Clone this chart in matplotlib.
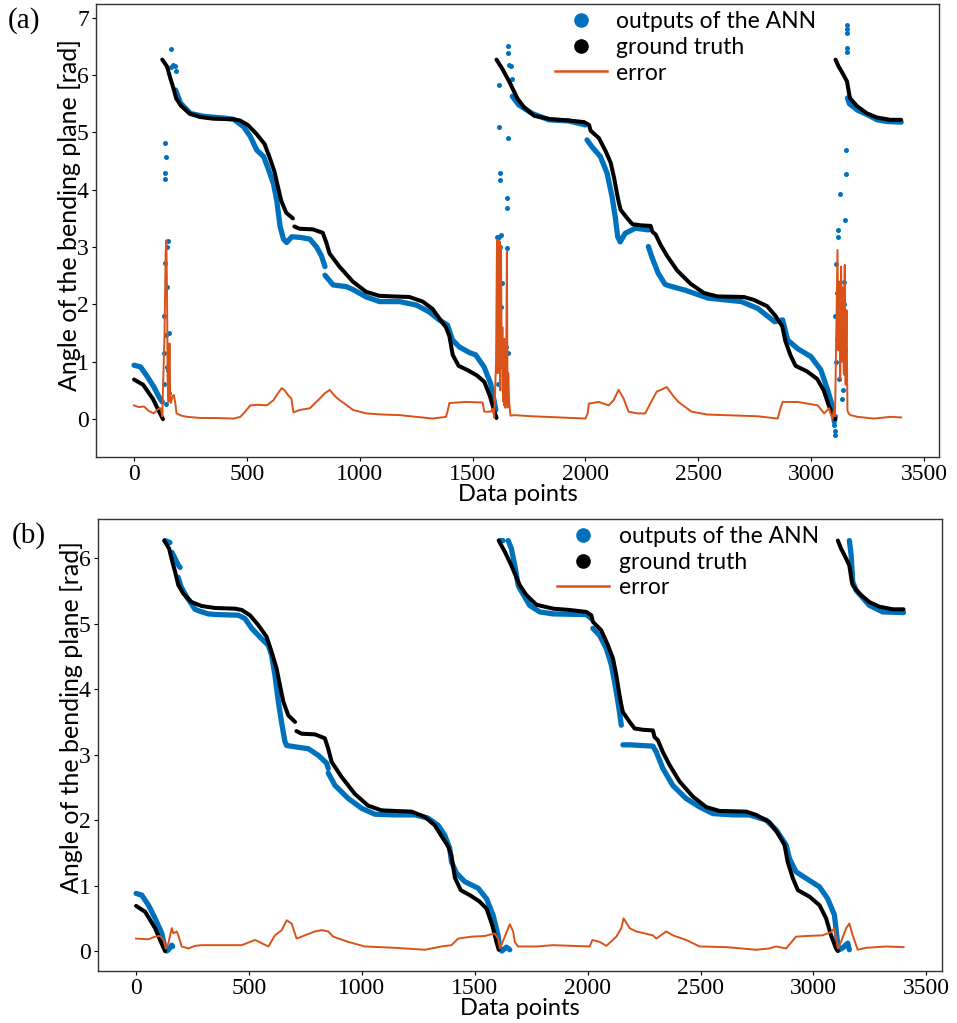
import numpy as np
import matplotlib
matplotlib.use("Agg")
import matplotlib.pyplot as plt
from matplotlib.lines import Line2D

nan = np.nan

# ground truth (same in both panels), nan = gap in the curve
gt_x = [0, 40, 84, 110, 128, nan,
        125, 146, 161, 173, 187, 209, 246, 291, 350, 438, 468, 504, 541, 578, 600, 622, 637, 652, 674, 704, nan,
        710, 733, 792, 836, 851, 866, 910, 969, 1028, 1087, 1146, 1220, 1279, 1323, 1352, 1382, 1397, 1412, 1438,
        1480, 1520, 1552, 1577, 1596, 1606, nan,
        1606, 1633, 1662, 1699, 1728, 1773, 1847, 1920, 1994, 2016, 2023, 2060, 2090, 2112, 2127, 2141, 2149, 2156,
        2186, 2208, 2245, 2289, 2296, 2311, 2333, 2363, 2407, 2466, 2525, 2584, 2702, 2746, 2805, 2842, 2872, 2886,
        2909, 2931, 2983, 3027, 3056, 3078, 3100, 3108, nan,
        3108, 3122, 3137, 3159, 3170, 3174, 3203, 3248, 3292, 3351, 3399]
gt_y = [0.69, 0.60, 0.35, 0.14, 0.0, nan,
        6.27, 6.15, 5.94, 5.79, 5.59, 5.46, 5.33, 5.27, 5.24, 5.23, 5.21, 5.13, 4.98, 4.80, 4.57, 4.32, 4.06, 3.81, 3.60, 3.50, nan,
        3.36, 3.32, 3.31, 3.25, 3.09, 2.89, 2.66, 2.40, 2.22, 2.15, 2.14, 2.13, 2.05, 1.92, 1.76, 1.60, 1.45, 1.12, 0.93,
        0.85, 0.76, 0.65, 0.40, 0.14, 0.02, nan,
        6.27, 6.10, 5.89, 5.59, 5.44, 5.29, 5.23, 5.21, 5.18, 5.13, 5.03, 4.90, 4.67, 4.47, 4.21, 3.91, 3.76, 3.65,
        3.50, 3.40, 3.38, 3.37, 3.27, 3.22, 3.04, 2.84, 2.59, 2.36, 2.20, 2.14, 2.13, 2.08, 1.97, 1.80, 1.62, 1.36,
        1.11, 0.93, 0.83, 0.70, 0.50, 0.24, 0.04, 0.0, nan,
        6.27, 6.15, 6.05, 5.89, 5.64, 5.59, 5.46, 5.33, 5.26, 5.22, 5.22]

# (a) outputs of the ANN: dense band and scattered points
out_a_x = [0, 29, 59, 88, 110, 125, nan,
           184, 206, 250, 309, 400, 441, 485, 515, 544, 574, 596, 618, 632, 647, 662, 676, 699, 735, 779, 809, 830, 846, nan,
           846, 882, 941, 970, 1029, 1088, 1176, 1250, 1308, 1352, 1389, 1411, 1441, 1486, 1514, 1551, 1580, 1595, 1603, nan,
           1676, 1705, 1764, 1838, 1927, 2000, nan,
           2007, 2029, 2066, 2096, 2118, 2132, 2143, 2154, 2176, 2221, 2279, nan,
           2279, 2294, 2323, 2353, 2367, 2412, 2441, 2544, 2691, 2764, 2838, 2874, 2896, 2940, 2999, 3043, 3073, 3095, 3103, nan,
           3161, 3170, 3205, 3249, 3293, 3340, 3399]
out_a_y = [0.94, 0.91, 0.74, 0.56, 0.39, 0.30, nan,
           5.74, 5.51, 5.33, 5.28, 5.25, 5.23, 5.10, 4.93, 4.69, 4.58, 4.35, 4.10, 3.82, 3.36, 3.14, 3.08, 3.18, 3.17, 3.14, 3.00, 2.85, 2.66, nan,
           2.51, 2.34, 2.31, 2.26, 2.13, 2.05, 2.05, 1.99, 1.87, 1.73, 1.64, 1.38, 1.26, 1.16, 1.12, 0.91, 0.62, 0.33, 0.16, nan,
           5.63, 5.48, 5.33, 5.22, 5.20, 5.13, nan,
           4.87, 4.75, 4.58, 4.29, 3.88, 3.53, 3.18, 3.09, 3.24, 3.33, 3.30, nan,
           3.01, 2.83, 2.54, 2.35, 2.33, 2.28, 2.25, 2.11, 2.05, 1.93, 1.70, 1.73, 1.38, 1.23, 1.09, 0.86, 0.51, 0.22, -0.05, nan,
           5.60, 5.50, 5.39, 5.31, 5.22, 5.19, 5.18]
dots_a_x = [137, 141, 135, 138, 147, 135, 147, 132, 154, 132, 147, 132, 154, 140, 162, 165, 172, 180, 188, 150, 140, 152,
            1617, 1617, 1621, 1621, 1617, 1620, 1654, 1654, 1657, 1654, 1658, 1658, 1661, 1668, 1676, 1607, 1613, 1640,
            1644, 1632, 1650, 1655, 1625, 1610, 1625,
            3117, 3117, 3127, 3154, 3154, 3151, 3161, 3161, 3161, 3158, 3158, 3110, 3113, 3108, 3115, 3112, 3125, 3143,
            3150, 3150, 3147, 3146, 3152, 3139, 3103, 3105, 3106, 3104]
dots_a_y = [4.81, 4.58, 4.30, 4.19, 3.01, 2.72, 2.31, 1.79, 1.50, 1.15, 0.91, 0.62, 0.45, 0.27, 6.45, 6.14, 6.18, 6.16, 6.08, 3.10, 1.47, 0.85,
            5.83, 5.10, 4.29, 4.17, 3.18, 3.01, 3.85, 3.69, 4.90, 2.98, 6.50, 6.38, 6.18, 6.15, 5.93, 0.91, 0.62, 0.45,
            0.27, 2.37, 1.26, 1.15, 1.96, 3.18, 3.21,
            3.30, 3.18, 3.93, 4.69, 4.28, 3.47, 6.88, 6.80, 6.73, 6.47, 6.41, 2.70, 2.20, 1.80, 1.40, 1.00, 0.70, 0.50,
            0.80, 1.50, 2.00, 2.40, 1.20, 0.35, -0.10, -0.20, -0.28, 0.05]

# (a) error
err_a_x = [0, 20, 44, 66, 88, 105, 118,
           125, 135, 140, 143, 146, 149, 153, 157, 160, 163, 170, 176, 182, 188,
           210, 235, 294, 360, 441, 471, 490, 515, 550, 588, 618, 632, 654, 668, 682, 697, 706, 735, 779, 823, 845, 867,
           890, 911, 940, 970, 1029, 1100, 1176, 1250, 1323, 1382, 1390, 1397, 1470, 1544, 1552, 1580, 1590,
           1596, 1604, 1608, 1611, 1614, 1617, 1620, 1623, 1626, 1629, 1632, 1636, 1640, 1644, 1648, 1652, 1655, 1658,
           1662, 1668, 1684,
           1764, 1882, 2000, 2010, 2015, 2059, 2103, 2125, 2147, 2169, 2191, 2230, 2265, 2287, 2316, 2340, 2360, 2390,
           2412, 2470, 2540, 2617, 2700, 2764, 2852, 2865, 2874, 2940, 3029, 3058, 3080, 3090,
           3095, 3100, 3106, 3112, 3117, 3121, 3125, 3129, 3133, 3137, 3141, 3145, 3149, 3153, 3157, 3161, 3166, 3175,
           3205, 3279, 3352, 3399]
err_a_y = [0.24, 0.21, 0.22, 0.14, 0.10, 0.17, 0.19,
           0.05, 1.50, 2.90, 3.12, 2.20, 0.60, 0.30, 1.32, 0.40, 0.28, 0.40, 0.42, 0.30, 0.10,
           0.06, 0.04, 0.02, 0.02, 0.01, 0.04, 0.12, 0.24, 0.25, 0.24, 0.33, 0.42, 0.54, 0.50, 0.42, 0.36, 0.12, 0.16,
           0.19, 0.36, 0.45, 0.51, 0.40, 0.33, 0.25, 0.16, 0.10, 0.08, 0.07, 0.04, 0.01, 0.04, 0.15, 0.28, 0.30, 0.29,
           0.13, 0.13, 0.18,
           0.03, 1.00, 3.12, 0.80, 3.12, 1.20, 3.10, 0.50, 3.00, 0.90, 1.60, 0.30, 1.40, 0.20, 0.40, 2.92, 0.20, 0.80,
           0.30, 0.06, 0.07,
           0.05, 0.03, 0.01, 0.10, 0.27, 0.30, 0.24, 0.33, 0.51, 0.36, 0.13, 0.10, 0.10, 0.27, 0.48, 0.52, 0.56, 0.40,
           0.30, 0.13, 0.08, 0.07, 0.06, 0.05, 0.01, 0.20, 0.30, 0.30, 0.24, 0.10, 0.19, 0.05,
           0.01, 0.15, 0.05, 1.60, 2.95, 1.20, 2.40, 0.70, 2.66, 1.00, 2.30, 0.80, 2.69, 0.60, 1.90, 0.15, 0.10, 0.07,
           0.04, 0.01, 0.04, 0.03]

# (b) outputs of the ANN
out_b_x = [0, 25, 55, 84, 114, 125, 135, 143, 150, 158, 162, nan,
           128, 150, nan,
           159, 172, 186, 195, nan,
           186, 200, 224, 261, 283, 320, 357, 453, 482, 512, 556, 586, 600, 615, 630, 644, 659, 667, 704, 763, 807, 844, 851, nan,
           851, 881, 940, 999, 1058, 1146, 1235, 1293, 1338, 1367, 1389, 1397, 1419, 1456, 1515, 1552, 1581, 1603, 1611,
           1620, 1630, 1640, 1648, 1655, nan,
           1611, 1625, nan,
           1648, 1662, 1680, 1692, 1699, 1743, 1788, 1847, 1994, 2016, nan,
           2023, 2053, 2083, 2105, 2119, 2134, 2141, 2149, nan,
           2156, 2186, 2289, 2304, 2333, 2377, 2436, 2496, 2555, 2643, 2717, 2791, 2835, 2879, 2894, 2923, 2968, 3027,
           3063, 3093, 3108, 3115, 3130, 3145, 3152, 3159, nan,
           3159, 3167, 3174, 3189, 3248, 3307, 3399]
out_b_y = [0.88, 0.855, 0.70, 0.50, 0.27, 0.09, 0.0, 0.02, 0.05, 0.09, 0.07, nan,
           6.27, 6.24, nan,
           6.09, 6.00, 5.90, 5.86, nan,
           5.71, 5.56, 5.41, 5.22, 5.19, 5.15, 5.14, 5.13, 5.08, 4.93, 4.77, 4.67, 4.52, 4.21, 3.81, 3.50, 3.20, 3.14, 3.12, 3.09, 2.99, 2.87, 2.79, nan,
           2.72, 2.53, 2.33, 2.18, 2.09, 2.08, 2.08, 2.03, 1.92, 1.77, 1.57, 1.36, 1.19, 1.06, 0.96, 0.80, 0.55, 0.24, 0.04,
           0.0, 0.03, 0.06, 0.04, 0.02, nan,
           6.27, 6.27, nan,
           6.27, 6.15, 5.84, 5.59, 5.54, 5.28, 5.18, 5.15, 5.14, 5.08, nan,
           4.93, 4.82, 4.62, 4.37, 4.11, 3.81, 3.65, 3.45, nan,
           3.15, 3.15, 3.13, 3.04, 2.79, 2.53, 2.33, 2.20, 2.10, 2.08, 2.08, 2.00, 1.85, 1.62, 1.41, 1.21, 1.11, 0.98,
           0.80, 0.55, 0.09, 0.02, 0.05, 0.10, 0.12, 0.02, nan,
           6.27, 6.05, 5.64, 5.51, 5.28, 5.18, 5.17]

# (b) error
err_b_x = [0, 55, 84, 106, 121, 131, 143, 158, 165, 180, 187, 202, 232, 261, 291, 380, 468, 527, 586, 615, 645, 667,
           689, 711, 733, 792, 822, 851, 873, 940, 1013, 1146, 1279, 1352, 1397, 1426, 1485, 1544, 1588, 1603, 1611,
           1633, 1655, 1670, 1677, 1692, 1773, 1847, 2009, 2021, 2053, 2083, 2127, 2149, 2159, 2186, 2215, 2289, 2304,
           2348, 2377, 2436, 2496, 2614, 2746, 2805, 2835, 2879, 2923, 2968, 3041, 3078, 3093, 3108, 3122, 3145, 3159,
           3174, 3196, 3233, 3322, 3399]
err_b_y = [0.19, 0.18, 0.22, 0.23, 0.17, 0.04, 0.12, 0.35, 0.27, 0.30, 0.24, 0.07, 0.04, 0.08, 0.09, 0.09, 0.09, 0.17,
           0.07, 0.24, 0.32, 0.47, 0.42, 0.19, 0.22, 0.30, 0.32, 0.30, 0.22, 0.14, 0.07, 0.05, 0.02, 0.07, 0.09, 0.19,
           0.22, 0.23, 0.27, 0.19, 0.04, 0.22, 0.41, 0.30, 0.14, 0.07, 0.07, 0.09, 0.07, 0.17, 0.14, 0.08, 0.22, 0.35,
           0.50, 0.35, 0.30, 0.24, 0.19, 0.30, 0.24, 0.17, 0.07, 0.06, 0.02, 0.04, 0.07, 0.04, 0.22, 0.23, 0.24, 0.29,
           0.35, 0.04, 0.14, 0.35, 0.42, 0.24, 0.02, 0.05, 0.07, 0.06]

BLUE = "#0072BD"
ORANGE = "#D95319"
SANS = "Lato"

plt.rcParams["font.family"] = "Liberation Serif"

fig = plt.figure(figsize=(9.57, 10.23), dpi=100)
ax_a = fig.add_axes([0.100, 0.5533, 0.8815, 0.4428])
ax_b = fig.add_axes([0.1021, 0.0508, 0.8819, 0.4419])


def draw_panel(ax, ox, oy, dx, dy, ex, ey, ylim, yticks, label_y):
    ax.plot(ox, oy, color=BLUE, lw=3.8, solid_capstyle="round", solid_joinstyle="round")
    if dx:
        ax.plot(dx, dy, "o", color=BLUE, ms=3.6, mew=0)
    ax.plot(gt_x, gt_y, color="black", lw=2.9, solid_capstyle="round", solid_joinstyle="round")
    ax.plot(ex, ey, color=ORANGE, lw=1.4)

    ax.set_xlim(-170, 3568)
    ax.set_ylim(*ylim)
    ax.set_xticks(range(0, 3501, 500))
    ax.set_yticks(yticks)
    ax.tick_params(labelsize=17, length=3, width=0.8, pad=2)
    for s in ax.spines.values():
        s.set_color("#333333")
        s.set_linewidth(1.0)

    ax.set_xlabel("Data points", family=SANS, fontsize=17, labelpad=-1)
    ax.set_ylabel("Angle of the bending plane [rad]", family=SANS, fontsize=18)
    ax.yaxis.set_label_coords(-0.0175, label_y)

    handles = [
        Line2D([], [], ls="", marker="o", ms=9.5, color=BLUE),
        Line2D([], [], ls="", marker="o", ms=9.5, color="black"),
        Line2D([], [], color=ORANGE, lw=1.8),
    ]
    ax.legend(handles, ["outputs of the ANN", "ground truth", "error"],
              loc="upper left", bbox_to_anchor=(0.533, 1.004), borderaxespad=0,
              frameon=False, prop={"family": SANS, "size": 16.5},
              handlelength=2.3, handletextpad=0.4, labelspacing=0.2)


draw_panel(ax_a, out_a_x, out_a_y, dots_a_x, dots_a_y, err_a_x, err_a_y,
           (-0.66, 7.24), range(0, 8), 0.534)
draw_panel(ax_b, out_b_x, out_b_y, [], [], err_b_x, err_b_y,
           (-0.305, 6.6), range(0, 7), 0.562)

fig.text(0.008, 0.993, "(a)", fontsize=21, va="top", ha="left")
fig.text(0.012, 0.49, "(b)", fontsize=21, va="top", ha="left")

fig.savefig("out.png", dpi=100)
